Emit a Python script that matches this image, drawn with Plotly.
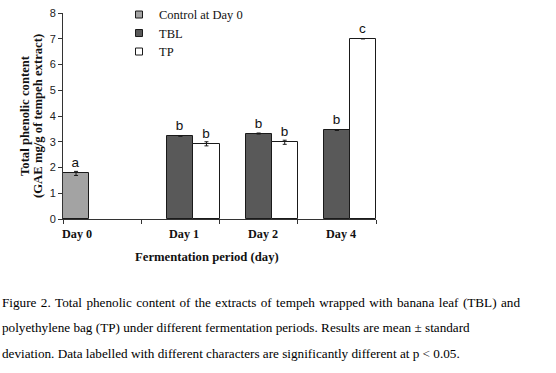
import plotly.graph_objects as go

# ---- data ----
categories = ["Day 0", "Day 1", "Day 2", "Day 4"]
control_vals = [1.77, None, None, None]
control_err = [0.08, None, None, None]
control_lbl = ["a", "", "", ""]
tbl_vals = [None, 3.22, 3.32, 3.44]
tbl_err = [None, None, 0.02, None]
tbl_lbl = ["", "b", "b", "b"]
tp_vals = [None, 2.92, 2.98, 7.0]
tp_err = [None, 0.08, 0.08, None]
tp_lbl = ["", "b", "b", "c"]
series_names = ["Control at Day 0", "TBL", "TP"]
y_ticks = [0, 1, 2, 3, 4, 5, 6, 7, 8]
y_title_lines = ["Total phenolic content", "(GAE mg/g of tempeh extract)"]
x_title = "Fermentation period (day)"
caption_lines = [
    "Figure 2. Total phenolic content of the extracts of tempeh wrapped with banana leaf (TBL) and",
    "polyethylene bag (TP) under different fermentation periods. Results are mean \u00b1 standard",
    "deviation. Data labelled with different characters are significantly different at p < 0.05.",
]
caption_justify = [True, False, False]

# ---- style ----
colors = ["#a3a3a3", "#595959", "#ffffff"]
SERIF = "Liberation Serif, Times New Roman, serif"
SANS = "Liberation Sans, Arial, sans-serif"
W, H = 556, 373
ML, MR, MT, MB = 63, 180, 13, 154
PW = W - ML - MR
PH = H - MT - MB

legend_ids = ["legend", "legend2", "legend3"]
legend_rows_px = [14.5, 33, 51.5]   # row centres (px from top)

fig = go.Figure()
for name, vals, err, lbl, col, lid in zip(
    series_names,
    [control_vals, tbl_vals, tp_vals],
    [control_err, tbl_err, tp_err],
    [control_lbl, tbl_lbl, tp_lbl],
    colors, legend_ids,
):
    fig.add_trace(go.Bar(
        x=categories, y=vals, name=name, showlegend=False,
        marker=dict(color=col, line=dict(color="#1a1a1a", width=1)),
        error_y=dict(type="data", array=err, visible=True, color="#1a1a1a",
                     thickness=1, width=2),
        text=lbl, textposition="outside", cliponaxis=False,
        textfont=dict(family=SANS, size=13.5, color="#111111"),
        hoverinfo="skip",
    ))
    # legend-only entry (small square icon like the original)
    fig.add_trace(go.Scatter(
        x=[None], y=[None], mode="markers", name=name, showlegend=True,
        legend=lid,
        marker=dict(symbol="square", size=7, color=col,
                    line=dict(color="#1a1a1a", width=1)),
    ))

annotations = []
# y-axis title (two tight lines)
for i, line in enumerate(y_title_lines):
    annotations.append(dict(
        text="<b>%s</b>" % line, xref="paper", yref="paper", x=0, y=0.5,
        xanchor="center", yanchor="middle", textangle=-90,
        xshift=[-38, -25][i], showarrow=False,
        font=dict(family=SERIF, size=12.7, color="#111111"),
    ))
# x category labels
label_shift = [-25, 4, 4, 4]
for c, s in zip(categories, label_shift):
    annotations.append(dict(
        text="<b>%s</b>" % c, xref="x", yref="paper", x=c, y=0,
        xanchor="center", yanchor="middle", xshift=s, yshift=-15,
        showarrow=False, font=dict(family=SERIF, size=12.2, color="#111111"),
    ))
# x-axis title
annotations.append(dict(
    text="<b>%s</b>" % x_title, xref="paper", yref="paper",
    x=(206.5 - ML) / PW, y=0, xanchor="center", yanchor="middle", yshift=-37.5,
    showarrow=False, font=dict(family=SERIF, size=12.7, color="#111111"),
))
# caption (first line justified with hair spaces)
for i, (line, just) in enumerate(zip(caption_lines, caption_justify)):
    txt = line.replace(" ", " \u200a") if just else line
    annotations.append(dict(
        text=txt, xref="paper", yref="paper", x=0, y=0,
        xanchor="left", yanchor="middle", xshift=-63, yshift=-(83 + 25.5 * i),
        showarrow=False, font=dict(family=SERIF, size=13.2, color="#000000"),
    ))

legend_common = dict(
    xanchor="left", yanchor="top",
    font=dict(family=SERIF, size=12.5, color="#111111"),
    bgcolor="rgba(0,0,0,0)", itemwidth=30,
)
legend_x = (119 - ML) / PW
legends = {}
for lid, row in zip(legend_ids, legend_rows_px):
    top_px = row - 14.6
    legends[lid] = dict(legend_common, x=legend_x, y=1 + (MT - top_px) / PH)

fig.update_layout(
    width=W, height=H,
    margin=dict(l=ML, r=MR, t=MT, b=MB, pad=0, autoexpand=False),
    paper_bgcolor="white", plot_bgcolor="white",
    barmode="group", bargap=0, bargroupgap=0,
    showlegend=True, hovermode=False,
    annotations=annotations,
    xaxis=dict(
        type="category", range=[-0.5, 3.5], showgrid=False, automargin=False,
        showline=True, linecolor="#333333", linewidth=1,
        ticks="outside", tickson="boundaries", ticklen=4, tickcolor="#333333",
        showticklabels=False, zeroline=False,
    ),
    yaxis=dict(
        range=[0, 8], tickvals=y_ticks, showgrid=False, zeroline=False,
        automargin=False,
        showline=True, linecolor="#333333", linewidth=1,
        ticks="outside", ticklen=4, tickcolor="#333333",
        tickfont=dict(family=SANS, size=11, color="#222222"),
    ),
    **legends,
)

fig.write_html("out.html", config={"displayModeBar": False},
               post_script="document.body.style.margin='0';")
